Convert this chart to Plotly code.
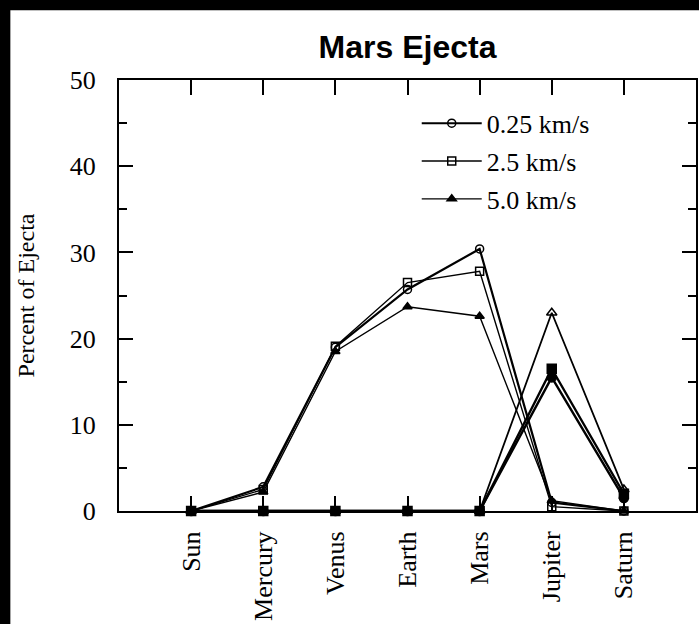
import plotly.graph_objects as go

# Bodies along the x axis
bodies = ["Sun", "Mercury", "Venus", "Earth", "Mars", "Jupiter", "Saturn"]

# Percent of Mars ejecta striking each body, per launch speed (first set)
pct_025 = [0.0, 2.8, 19.0, 25.7, 30.4, 1.0, 0.0]
pct_25 = [0.0, 2.5, 19.1, 26.5, 27.8, 0.5, 0.0]
pct_50 = [0.0, 2.2, 18.5, 23.7, 22.6, 1.2, 0.0]

# Second set (outer-planet fractions)
outer_025 = [0.0, 0.0, 0.0, 0.0, 0.0, 15.5, 1.5]
outer_25 = [0.0, 0.0, 0.0, 0.0, 0.0, 16.5, 2.0]
outer_50 = [0.0, 0.0, 0.0, 0.0, 0.0, 23.0, 2.5]

legend_names = ["0.25 km/s", "2.5 km/s", "5.0 km/s"]

SERIF = "Liberation Serif"
SANS = "Liberation Sans"

fig = go.Figure()

styles = [
    dict(symbol="circle-open", width=2.2, size=8),
    dict(symbol="square-open", width=1.4, size=8),
    dict(symbol="triangle-up", width=1.4, size=8),
]

for i, (name, ys, st) in enumerate(zip(legend_names, [pct_025, pct_25, pct_50], styles)):
    fig.add_trace(go.Scatter(
        x=bodies, y=ys, name=name, mode="lines+markers",
        line=dict(color="black", width=st["width"]),
        marker=dict(symbol=st["symbol"], size=st["size"], color="black",
                    line=dict(color="black", width=1.5)),
        cliponaxis=False, legendgroup=f"g{i}",
    ))

outer_styles = [
    dict(symbol="circle", width=2.4),
    dict(symbol="square", width=2.4),
    dict(symbol="triangle-up-open", width=1.8),
]
for ys, st in zip([outer_025, outer_25, outer_50], outer_styles):
    fig.add_trace(go.Scatter(
        x=bodies, y=ys, mode="lines+markers", showlegend=False,
        line=dict(color="black", width=st["width"]),
        marker=dict(symbol=st["symbol"], size=9, color="black",
                    line=dict(color="black", width=1.5)),
        cliponaxis=False,
    ))

# white page on a black frame
fig.add_shape(type="rect", xref="paper", yref="paper",
              x0=-0.1883, x1=1.01, y0=-0.27, y1=1.162,
              fillcolor="white", line=dict(width=0), layer="below")

fig.update_layout(
    width=699, height=624,
    margin=dict(l=119, r=1, t=80, b=113),
    paper_bgcolor="black", plot_bgcolor="white",
    title=dict(text="<b>Mars Ejecta</b>", x=0.5, xref="paper",
               y=1 - 47 / 624, yanchor="middle",
               font=dict(family=SANS, size=32, color="black")),
    showlegend=True,
    legend=dict(x=0.516, y=0.954, xanchor="left", yanchor="top",
                bgcolor="rgba(0,0,0,0)", font=dict(family=SERIF, size=26, color="black"),
                traceorder="grouped", tracegroupgap=1, itemwidth=60),
)

fig.update_xaxes(
    type="category", range=[-1, 7],
    showline=True, mirror="ticks", linecolor="black", linewidth=2,
    ticks="inside", ticklen=15, tickwidth=1.5, tickcolor="black",
    tickangle=-90, ticklabelstandoff=8,
    tickfont=dict(family=SERIF, size=26, color="black"),
    showgrid=False, zeroline=False,
)

fig.update_yaxes(
    range=[0, 50], dtick=10, tick0=0,
    showline=True, mirror="ticks", linecolor="black", linewidth=2,
    ticks="inside", ticklen=14, tickwidth=2, tickcolor="black",
    minor=dict(dtick=5, ticks="inside", ticklen=8, tickwidth=2, tickcolor="black", showgrid=False),
    ticklabelstandoff=16,
    tickfont=dict(family=SERIF, size=26, color="black"),
    title=dict(text="Percent of Ejecta", font=dict(family=SERIF, size=24, color="black"), standoff=28),
    showgrid=False, zeroline=False,
)

fig.write_html("out.html")
